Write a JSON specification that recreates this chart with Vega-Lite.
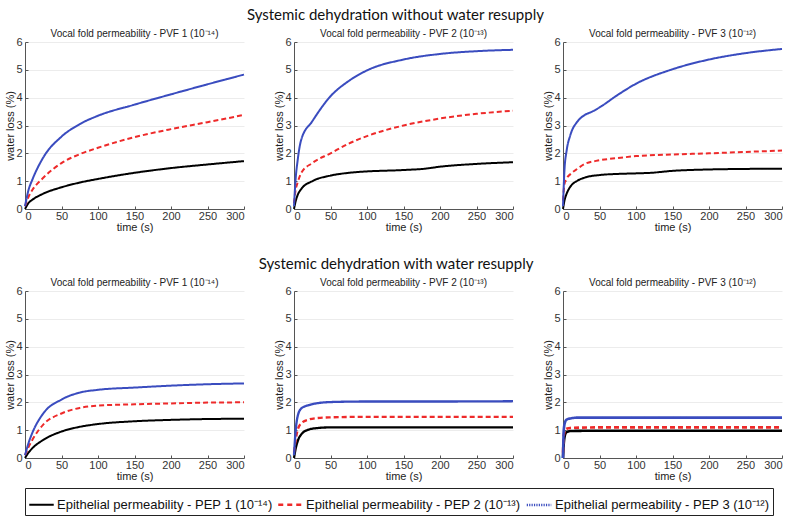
{
  "$schema": "https://vega.github.io/schema/vega-lite/v6.json",
  "background": "white",
  "padding": {"left": 4, "top": 8, "right": 8, "bottom": 3},
  "datasets": {
    "curves": [
      {"c":"A","p":1,"s":1,"t":0,"v":0},{"c":"A","p":1,"s":1,"t":5,"v":0.22},{"c":"A","p":1,"s":1,"t":10,"v":0.33},{"c":"A","p":1,"s":1,"t":25,"v":0.55},{"c":"A","p":1,"s":1,"t":50,"v":0.78},{"c":"A","p":1,"s":1,"t":75,"v":0.95},{"c":"A","p":1,"s":1,"t":100,"v":1.08},{"c":"A","p":1,"s":1,"t":150,"v":1.3},{"c":"A","p":1,"s":1,"t":200,"v":1.47},{"c":"A","p":1,"s":1,"t":250,"v":1.6},{"c":"A","p":1,"s":1,"t":300,"v":1.72},
      {"c":"A","p":1,"s":2,"t":0,"v":0.1},{"c":"A","p":1,"s":2,"t":5,"v":0.45},{"c":"A","p":1,"s":2,"t":10,"v":0.68},{"c":"A","p":1,"s":2,"t":25,"v":1.12},{"c":"A","p":1,"s":2,"t":50,"v":1.65},{"c":"A","p":1,"s":2,"t":75,"v":1.97},{"c":"A","p":1,"s":2,"t":100,"v":2.2},{"c":"A","p":1,"s":2,"t":150,"v":2.58},{"c":"A","p":1,"s":2,"t":200,"v":2.87},{"c":"A","p":1,"s":2,"t":250,"v":3.12},{"c":"A","p":1,"s":2,"t":300,"v":3.38},
      {"c":"A","p":1,"s":3,"t":0,"v":0.1},{"c":"A","p":1,"s":3,"t":5,"v":0.7},{"c":"A","p":1,"s":3,"t":10,"v":1.05},{"c":"A","p":1,"s":3,"t":25,"v":1.85},{"c":"A","p":1,"s":3,"t":50,"v":2.6},{"c":"A","p":1,"s":3,"t":75,"v":3.05},{"c":"A","p":1,"s":3,"t":100,"v":3.35},{"c":"A","p":1,"s":3,"t":150,"v":3.75},{"c":"A","p":1,"s":3,"t":200,"v":4.12},{"c":"A","p":1,"s":3,"t":250,"v":4.48},{"c":"A","p":1,"s":3,"t":300,"v":4.83},
      {"c":"A","p":2,"s":1,"t":0,"v":0},{"c":"A","p":2,"s":1,"t":2,"v":0.25},{"c":"A","p":2,"s":1,"t":5,"v":0.5},{"c":"A","p":2,"s":1,"t":10,"v":0.72},{"c":"A","p":2,"s":1,"t":25,"v":1.0},{"c":"A","p":2,"s":1,"t":50,"v":1.2},{"c":"A","p":2,"s":1,"t":75,"v":1.3},{"c":"A","p":2,"s":1,"t":100,"v":1.35},{"c":"A","p":2,"s":1,"t":150,"v":1.4},{"c":"A","p":2,"s":1,"t":180,"v":1.45},{"c":"A","p":2,"s":1,"t":200,"v":1.52},{"c":"A","p":2,"s":1,"t":250,"v":1.62},{"c":"A","p":2,"s":1,"t":300,"v":1.68},
      {"c":"A","p":2,"s":2,"t":0,"v":0.2},{"c":"A","p":2,"s":2,"t":2,"v":0.65},{"c":"A","p":2,"s":2,"t":5,"v":0.95},{"c":"A","p":2,"s":2,"t":10,"v":1.3},{"c":"A","p":2,"s":2,"t":25,"v":1.65},{"c":"A","p":2,"s":2,"t":50,"v":2.0},{"c":"A","p":2,"s":2,"t":75,"v":2.35},{"c":"A","p":2,"s":2,"t":100,"v":2.62},{"c":"A","p":2,"s":2,"t":150,"v":3.0},{"c":"A","p":2,"s":2,"t":200,"v":3.25},{"c":"A","p":2,"s":2,"t":250,"v":3.42},{"c":"A","p":2,"s":2,"t":300,"v":3.53},
      {"c":"A","p":2,"s":3,"t":0,"v":0.1},{"c":"A","p":2,"s":3,"t":2,"v":1.0},{"c":"A","p":2,"s":3,"t":5,"v":1.75},{"c":"A","p":2,"s":3,"t":10,"v":2.5},{"c":"A","p":2,"s":3,"t":25,"v":3.15},{"c":"A","p":2,"s":3,"t":50,"v":4.05},{"c":"A","p":2,"s":3,"t":75,"v":4.6},{"c":"A","p":2,"s":3,"t":100,"v":4.98},{"c":"A","p":2,"s":3,"t":150,"v":5.37},{"c":"A","p":2,"s":3,"t":200,"v":5.57},{"c":"A","p":2,"s":3,"t":250,"v":5.67},{"c":"A","p":2,"s":3,"t":300,"v":5.72},
      {"c":"A","p":3,"s":1,"t":0,"v":0},{"c":"A","p":3,"s":1,"t":2,"v":0.3},{"c":"A","p":3,"s":1,"t":5,"v":0.55},{"c":"A","p":3,"s":1,"t":10,"v":0.8},{"c":"A","p":3,"s":1,"t":20,"v":1.02},{"c":"A","p":3,"s":1,"t":30,"v":1.13},{"c":"A","p":3,"s":1,"t":50,"v":1.22},{"c":"A","p":3,"s":1,"t":75,"v":1.26},{"c":"A","p":3,"s":1,"t":100,"v":1.28},{"c":"A","p":3,"s":1,"t":120,"v":1.3},{"c":"A","p":3,"s":1,"t":150,"v":1.37},{"c":"A","p":3,"s":1,"t":200,"v":1.42},{"c":"A","p":3,"s":1,"t":250,"v":1.44},{"c":"A","p":3,"s":1,"t":300,"v":1.45},
      {"c":"A","p":3,"s":2,"t":0,"v":0.3},{"c":"A","p":3,"s":2,"t":2,"v":0.9},{"c":"A","p":3,"s":2,"t":5,"v":1.1},{"c":"A","p":3,"s":2,"t":10,"v":1.25},{"c":"A","p":3,"s":2,"t":20,"v":1.45},{"c":"A","p":3,"s":2,"t":30,"v":1.62},{"c":"A","p":3,"s":2,"t":50,"v":1.75},{"c":"A","p":3,"s":2,"t":75,"v":1.83},{"c":"A","p":3,"s":2,"t":100,"v":1.9},{"c":"A","p":3,"s":2,"t":150,"v":1.96},{"c":"A","p":3,"s":2,"t":200,"v":2.0},{"c":"A","p":3,"s":2,"t":250,"v":2.05},{"c":"A","p":3,"s":2,"t":300,"v":2.1},
      {"c":"A","p":3,"s":3,"t":0,"v":0.1},{"c":"A","p":3,"s":3,"t":2,"v":1.4},{"c":"A","p":3,"s":3,"t":5,"v":2.1},{"c":"A","p":3,"s":3,"t":10,"v":2.65},{"c":"A","p":3,"s":3,"t":20,"v":3.15},{"c":"A","p":3,"s":3,"t":30,"v":3.38},{"c":"A","p":3,"s":3,"t":40,"v":3.5},{"c":"A","p":3,"s":3,"t":50,"v":3.65},{"c":"A","p":3,"s":3,"t":75,"v":4.1},{"c":"A","p":3,"s":3,"t":100,"v":4.5},{"c":"A","p":3,"s":3,"t":150,"v":5.02},{"c":"A","p":3,"s":3,"t":200,"v":5.37},{"c":"A","p":3,"s":3,"t":250,"v":5.6},{"c":"A","p":3,"s":3,"t":300,"v":5.75},
      {"c":"B","p":1,"s":1,"t":0,"v":0},{"c":"B","p":1,"s":1,"t":5,"v":0.2},{"c":"B","p":1,"s":1,"t":10,"v":0.35},{"c":"B","p":1,"s":1,"t":25,"v":0.65},{"c":"B","p":1,"s":1,"t":50,"v":0.95},{"c":"B","p":1,"s":1,"t":75,"v":1.12},{"c":"B","p":1,"s":1,"t":100,"v":1.22},{"c":"B","p":1,"s":1,"t":150,"v":1.32},{"c":"B","p":1,"s":1,"t":200,"v":1.37},{"c":"B","p":1,"s":1,"t":250,"v":1.4},{"c":"B","p":1,"s":1,"t":300,"v":1.41},
      {"c":"B","p":1,"s":2,"t":0,"v":0.1},{"c":"B","p":1,"s":2,"t":5,"v":0.4},{"c":"B","p":1,"s":2,"t":10,"v":0.65},{"c":"B","p":1,"s":2,"t":25,"v":1.2},{"c":"B","p":1,"s":2,"t":50,"v":1.6},{"c":"B","p":1,"s":2,"t":75,"v":1.8},{"c":"B","p":1,"s":2,"t":100,"v":1.88},{"c":"B","p":1,"s":2,"t":150,"v":1.93},{"c":"B","p":1,"s":2,"t":200,"v":1.96},{"c":"B","p":1,"s":2,"t":250,"v":1.99},{"c":"B","p":1,"s":2,"t":300,"v":2.0},
      {"c":"B","p":1,"s":3,"t":0,"v":0.1},{"c":"B","p":1,"s":3,"t":5,"v":0.55},{"c":"B","p":1,"s":3,"t":10,"v":0.9},{"c":"B","p":1,"s":3,"t":25,"v":1.6},{"c":"B","p":1,"s":3,"t":50,"v":2.1},{"c":"B","p":1,"s":3,"t":75,"v":2.35},{"c":"B","p":1,"s":3,"t":100,"v":2.45},{"c":"B","p":1,"s":3,"t":150,"v":2.53},{"c":"B","p":1,"s":3,"t":200,"v":2.6},{"c":"B","p":1,"s":3,"t":250,"v":2.65},{"c":"B","p":1,"s":3,"t":300,"v":2.68},
      {"c":"B","p":2,"s":1,"t":0,"v":0},{"c":"B","p":2,"s":1,"t":2,"v":0.3},{"c":"B","p":2,"s":1,"t":5,"v":0.6},{"c":"B","p":2,"s":1,"t":10,"v":0.85},{"c":"B","p":2,"s":1,"t":20,"v":1.02},{"c":"B","p":2,"s":1,"t":30,"v":1.07},{"c":"B","p":2,"s":1,"t":50,"v":1.1},{"c":"B","p":2,"s":1,"t":100,"v":1.1},{"c":"B","p":2,"s":1,"t":200,"v":1.1},{"c":"B","p":2,"s":1,"t":300,"v":1.1},
      {"c":"B","p":2,"s":2,"t":0,"v":0.2},{"c":"B","p":2,"s":2,"t":2,"v":0.6},{"c":"B","p":2,"s":2,"t":5,"v":1.0},{"c":"B","p":2,"s":2,"t":10,"v":1.25},{"c":"B","p":2,"s":2,"t":20,"v":1.38},{"c":"B","p":2,"s":2,"t":30,"v":1.43},{"c":"B","p":2,"s":2,"t":50,"v":1.46},{"c":"B","p":2,"s":2,"t":100,"v":1.48},{"c":"B","p":2,"s":2,"t":200,"v":1.48},{"c":"B","p":2,"s":2,"t":300,"v":1.48},
      {"c":"B","p":2,"s":3,"t":0,"v":0.1},{"c":"B","p":2,"s":3,"t":2,"v":0.9},{"c":"B","p":2,"s":3,"t":5,"v":1.5},{"c":"B","p":2,"s":3,"t":10,"v":1.78},{"c":"B","p":2,"s":3,"t":20,"v":1.9},{"c":"B","p":2,"s":3,"t":30,"v":1.96},{"c":"B","p":2,"s":3,"t":50,"v":2.01},{"c":"B","p":2,"s":3,"t":100,"v":2.03},{"c":"B","p":2,"s":3,"t":200,"v":2.03},{"c":"B","p":2,"s":3,"t":300,"v":2.04},
      {"c":"B","p":3,"s":1,"t":0,"v":0},{"c":"B","p":3,"s":1,"t":1,"v":0.5},{"c":"B","p":3,"s":1,"t":3,"v":0.85},{"c":"B","p":3,"s":1,"t":5,"v":0.93},{"c":"B","p":3,"s":1,"t":10,"v":0.97},{"c":"B","p":3,"s":1,"t":50,"v":0.98},{"c":"B","p":3,"s":1,"t":300,"v":0.98},
      {"c":"B","p":3,"s":2,"t":0,"v":0.2},{"c":"B","p":3,"s":2,"t":1,"v":0.8},{"c":"B","p":3,"s":2,"t":3,"v":1.0},{"c":"B","p":3,"s":2,"t":5,"v":1.05},{"c":"B","p":3,"s":2,"t":10,"v":1.08},{"c":"B","p":3,"s":2,"t":50,"v":1.1},{"c":"B","p":3,"s":2,"t":300,"v":1.1},
      {"c":"B","p":3,"s":3,"t":0,"v":0},{"c":"B","p":3,"s":3,"t":1,"v":1.0},{"c":"B","p":3,"s":3,"t":3,"v":1.3},{"c":"B","p":3,"s":3,"t":5,"v":1.38},{"c":"B","p":3,"s":3,"t":10,"v":1.42},{"c":"B","p":3,"s":3,"t":20,"v":1.45},{"c":"B","p":3,"s":3,"t":50,"v":1.45},{"c":"B","p":3,"s":3,"t":300,"v":1.45}
    ]
  },
  "data": {"name": "curves"},
  "spacing": 25,
  "vconcat": [
    {
      "title": "Systemic dehydration without water resupply",
      "transform": [{"filter": "datum.c == 'A'"}],
      "facet": {"column": {"field": "p", "type": "ordinal", "title": null,
        "header": {"labelExpr": "'Vocal fold permeability - PVF ' + datum.value + (datum.value == 1 ? ' (10⁻¹⁴)' : datum.value == 2 ? ' (10⁻¹³)' : ' (10⁻¹²)')"}}},
      "spacing": 50,
      "bounds": "flush",
      "resolve": {"axis": {"y": "independent", "x": "independent"}},
      "spec": {
        "width": 219, "height": 167,
        "mark": {"type": "line", "interpolate": "monotone", "strokeWidth": 2},
        "encoding": {
          "x": {"field": "t", "type": "quantitative", "scale": {"domain": [0, 300], "nice": false}, "axis": {"title": "time (s)", "values": [0,50,100,150,200,250,300]}},
          "y": {"field": "v", "type": "quantitative", "scale": {"domain": [0, 6], "nice": false}, "axis": {"title": "water loss (%)", "values": [0,1,2,3,4,5,6]}},
          "color": {"field": "s", "type": "nominal", "scale": {"domain": [1,2,3], "range": ["#000000", "#ee2a2a", "#3a4cbf"]},
            "legend": {"orient": "none", "legendX": 0, "legendY": 446, "direction": "horizontal", "title": null,
              "labelExpr": "'Epithelial permeability - PEP ' + datum.label + (datum.label == '1' ? ' (10⁻¹⁴)' : datum.label == '2' ? ' (10⁻¹³)' : ' (10⁻¹²)')",
              "encode": {"symbols": {"update": {"strokeDash": {"signal": "datum.value == 3 ? [1.2, 1.2] : datum.value == 2 ? [5, 4] : [1, 0]"}, "strokeWidth": {"signal": "datum.value == 3 ? 1.5 : 2.2"}}}}}},
          "strokeDash": {"condition": {"test": "datum.s == 2", "value": [5, 3]}, "value": [1, 0]}
        }
      }
    },
    {
      "title": "Systemic dehydration with water resupply",
      "transform": [{"filter": "datum.c == 'B'"}],
      "facet": {"column": {"field": "p", "type": "ordinal", "title": null,
        "header": {"labelExpr": "'Vocal fold permeability - PVF ' + datum.value + (datum.value == 1 ? ' (10⁻¹⁴)' : datum.value == 2 ? ' (10⁻¹³)' : ' (10⁻¹²)')"}}},
      "spacing": 50,
      "bounds": "flush",
      "resolve": {"axis": {"y": "independent", "x": "independent"}},
      "spec": {
        "width": 219, "height": 167,
        "mark": {"type": "line", "interpolate": "monotone"},
        "encoding": {
          "x": {"field": "t", "type": "quantitative", "scale": {"domain": [0, 300], "nice": false}, "axis": {"title": "time (s)", "values": [0,50,100,150,200,250,300]}},
          "y": {"field": "v", "type": "quantitative", "scale": {"domain": [0, 6], "nice": false}, "axis": {"title": "water loss (%)", "values": [0,1,2,3,4,5,6]}},
          "color": {"field": "s", "type": "nominal", "scale": {"domain": [1,2,3], "range": ["#000000", "#ee2a2a", "#3a4cbf"]},
            "legend": {"orient": "none", "legendX": 0, "legendY": 446, "direction": "horizontal", "title": null,
              "labelExpr": "'Epithelial permeability - PEP ' + datum.label + (datum.label == '1' ? ' (10⁻¹⁴)' : datum.label == '2' ? ' (10⁻¹³)' : ' (10⁻¹²)')",
              "encode": {"symbols": {"update": {"strokeDash": {"signal": "datum.value == 3 ? [1.2, 1.2] : datum.value == 2 ? [5, 4] : [1, 0]"}, "strokeWidth": {"signal": "datum.value == 3 ? 1.5 : 2.2"}}}}}},
          "strokeDash": {"condition": {"test": "datum.s == 2", "value": [5, 3]}, "value": [1, 0]},
          "strokeWidth": {"field": "p", "type": "ordinal", "scale": {"domain": [1,2,3], "range": [2, 2.6, 3.6]}, "legend": null}
        }
      }
    }
  ],
  "config": {
    "view": {"stroke": null},
    "font": "Liberation Sans",
    "axis": {"labelFont": "Liberation Sans", "titleFont": "Liberation Sans", "labelFontSize": 11, "titleFontSize": 11, "titleFontWeight": "normal", "labelColor": "#333333", "titleColor": "#222222", "domainColor": "#555555", "tickColor": "#555555", "gridColor": "#ececec", "tickSize": -3, "labelPadding": 6},
    "axisX": {"grid": false, "titlePadding": 0, "labelPadding": 4},
    "axisY": {"titlePadding": 0},
    "header": {"labelFontSize": 10, "labelPadding": 3, "labelColor": "#222222", "labelFont": "Liberation Sans"},
    "legend": {"symbolType": "stroke", "symbolSize": 600, "symbolStrokeWidth": 2.2, "labelFontSize": 13, "labelFont": "Liberation Sans", "labelColor": "#111111", "strokeColor": "#222222", "fillColor": "white", "padding": 3, "columnPadding": 0, "labelOffset": 2, "labelLimit": 400},
    "title": {"fontSize": 15, "font": "Lato", "fontWeight": "normal", "anchor": "middle", "offset": 6, "color": "#111111"}
  }
}
